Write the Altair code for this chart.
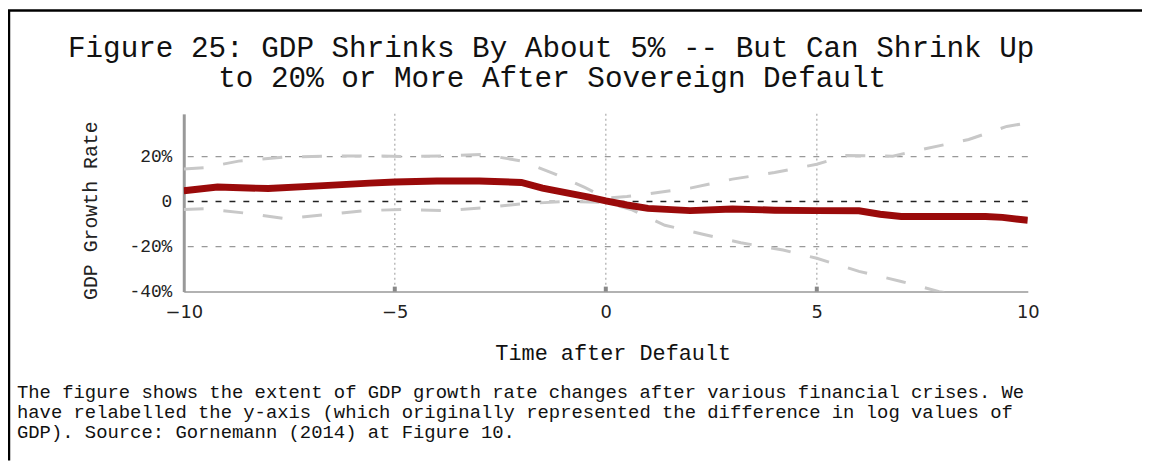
import altair as alt
import pandas as pd

# ---------------- data ----------------
title_lines = ["Figure 25: GDP Shrinks By About 5% -- But Can Shrink Up",
               "to 20% or More After Sovereign Default"]
caption_lines = [
    "The figure shows the extent of GDP growth rate changes after various financial crises. We",
    "have relabelled the y-axis (which originally represented the difference in log values of",
    "GDP). Source: Gornemann (2014) at Figure 10.",
]
x_title = "Time after Default"
y_title = "GDP Growth Rate"

x_ticks = [-10, -5, 0, 5, 10]
y_ticks = [-40, -20, 0, 20]
grid_x = [-5, 0, 5]
grid_y_minor = [20, -20]
grid_y_zero = [0]

red_x = [-10, -9.2, -8, -6.8, -5.6, -5, -4, -3, -2, -1.5, -0.8, -0.4, 0, 0.5, 1,
         2, 3, 4, 5, 6, 6.5, 7, 8, 9, 9.4, 10]
red_y = [4.8, 6.5, 5.8, 7.0, 8.2, 8.7, 9.2, 9.2, 8.5, 6.0, 3.4, 2.0, 0.3, -1.5, -3.0,
         -4.0, -3.3, -3.8, -4.0, -4.1, -5.6, -6.6, -6.6, -6.6, -7.0, -8.3]

upper_x = [-10, -9.5, -8.7, -7.6, -6.5, -5.5, -4.8, -3.8, -2.9, -2, -1.2, -0.5, 0,
           0.5, 1, 2, 3, 4, 5, 5.7, 6.8, 7.5, 8.6, 9.5, 10]
upper_y = [14.5, 15.1, 18, 19.8, 20.3, 20.3, 20, 20.3, 21, 18, 12.2, 6.3, 1.5,
           2.3, 3.4, 6, 10, 12.9, 16.6, 20.5, 20.2, 23.2, 27.6, 33.4, 35]

lower_x = [-10, -9.5, -8.4, -7.6, -6.6, -5.7, -4.8, -3.8, -2.9, -2, -1, 0, 0.6,
           1.4, 2.3, 3.2, 4.2, 5, 6, 7, 7.9, 9, 10]
lower_y = [-3.5, -3.2, -5.4, -7.6, -5.7, -4, -3.5, -4, -2.8, -1, 0, -0.3, -3.5,
           -10.5, -14.5, -18.3, -21.5, -25.2, -31, -35.5, -40, -44, -48]

# ---------------- chart ----------------
W, H = 850, 179
MONO = "Liberation Mono"
xs = alt.Scale(domain=[-10, 10], nice=False, zero=False)
ys = alt.Scale(domain=[-40, 39], nice=False, zero=False)

red_df = pd.DataFrame({"x": red_x, "y": red_y})
up_df = pd.DataFrame({"x": upper_x, "y": upper_y})
lo_df = pd.DataFrame({"x": lower_x, "y": lower_y})

x_axis = alt.Axis(values=x_ticks, format="d", labelFont="DejaVu Sans", labelFontSize=18,
                  labelColor="#222", labelPadding=12, labelFlush=False, ticks=False,
                  grid=False, domainColor="#999", domainWidth=1.5, title=x_title,
                  titleFont=MONO, titleFontSize=22, titleFontWeight="normal",
                  titleColor="#111", titlePadding=21, titleX=432)
y_axis = alt.Axis(values=y_ticks, labelExpr="datum.value == 0 ? '0' : datum.value + '%'",
                  labelFont=MONO, labelFontSize=18, labelColor="#222", labelPadding=12,
                  ticks=False, grid=False, domainColor="#999", domainWidth=3,
                  title=y_title, titleFont=MONO, titleFontSize=20,
                  titleFontWeight="normal", titleColor="#222", titlePadding=29,
                  titleY=97)


def X(field):
    return alt.X(field, scale=xs, axis=x_axis)


def Y(field):
    return alt.Y(field, scale=ys, axis=y_axis)


vgrid = alt.Chart(pd.DataFrame({"g": grid_x})).mark_rule(
    color="#bbb", strokeWidth=1.5, strokeDash=[2, 3]).encode(x=X("g:Q"))
vticks = alt.Chart(pd.DataFrame({"g": grid_x})).mark_rule(
    color="#888", strokeWidth=4).encode(x=X("g:Q"), y=alt.value(H - 5), y2=alt.value(H))
hgrid = alt.Chart(pd.DataFrame({"g": grid_y_minor})).mark_rule(
    color="#999", strokeWidth=1.2, strokeDash=[6, 8]).encode(y=Y("g:Q"))
hzero = alt.Chart(pd.DataFrame({"g": grid_y_zero})).mark_rule(
    color="#222", strokeWidth=1.5, strokeDash=[6, 8]).encode(y=Y("g:Q"))

band_style = dict(color="#c8c8c8", strokeWidth=3, strokeDash=[20, 20], clip=True)
upper = alt.Chart(up_df).mark_line(**band_style).encode(x=X("x:Q"), y=Y("y:Q"))
lower = alt.Chart(lo_df).mark_line(**band_style).encode(x=X("x:Q"), y=Y("y:Q"))
red = alt.Chart(red_df).mark_line(color="#9a0a0a", strokeWidth=7, clip=True).encode(
    x=X("x:Q"), y=Y("y:Q"))

texts = []
title_pos = [(370, -66), (371, -36)]
for line, (px, py) in zip(title_lines, title_pos):
    texts.append(alt.Chart(pd.DataFrame({"t": [line]})).mark_text(
        font=MONO, fontSize=29.5, color="#111", align="center", baseline="middle").encode(
        text="t:N", x=alt.value(px), y=alt.value(py)))
cap_y = [280, 300, 320]
for line, py in zip(caption_lines, cap_y):
    texts.append(alt.Chart(pd.DataFrame({"t": [line]})).mark_text(
        font=MONO, fontSize=19, color="#111", align="left", baseline="middle").encode(
        text="t:N", x=alt.value(-168), y=alt.value(py)))

one = pd.DataFrame({"k": [0]})
border_left = alt.Chart(one).mark_rule(color="black", strokeWidth=2.5).encode(
    x=alt.value(-176), y=alt.value(-104), y2=alt.value(349))
border_top = alt.Chart(one).mark_rule(color="black", strokeWidth=2.5).encode(
    x=alt.value(-177), x2=alt.value(990), y=alt.value(-104))

chart = alt.layer(vgrid, hgrid, hzero, vticks, upper, lower, red,
                  *texts, border_left, border_top).properties(
    width=W, height=H,
    padding={"left": 177, "top": 105, "right": 115, "bottom": 170},
    autosize=alt.AutoSizeParams(type="none"),
    background="white",
).configure_view(stroke=None)

chart.save("out.html", embed_options={"renderer": "svg", "actions": False})
